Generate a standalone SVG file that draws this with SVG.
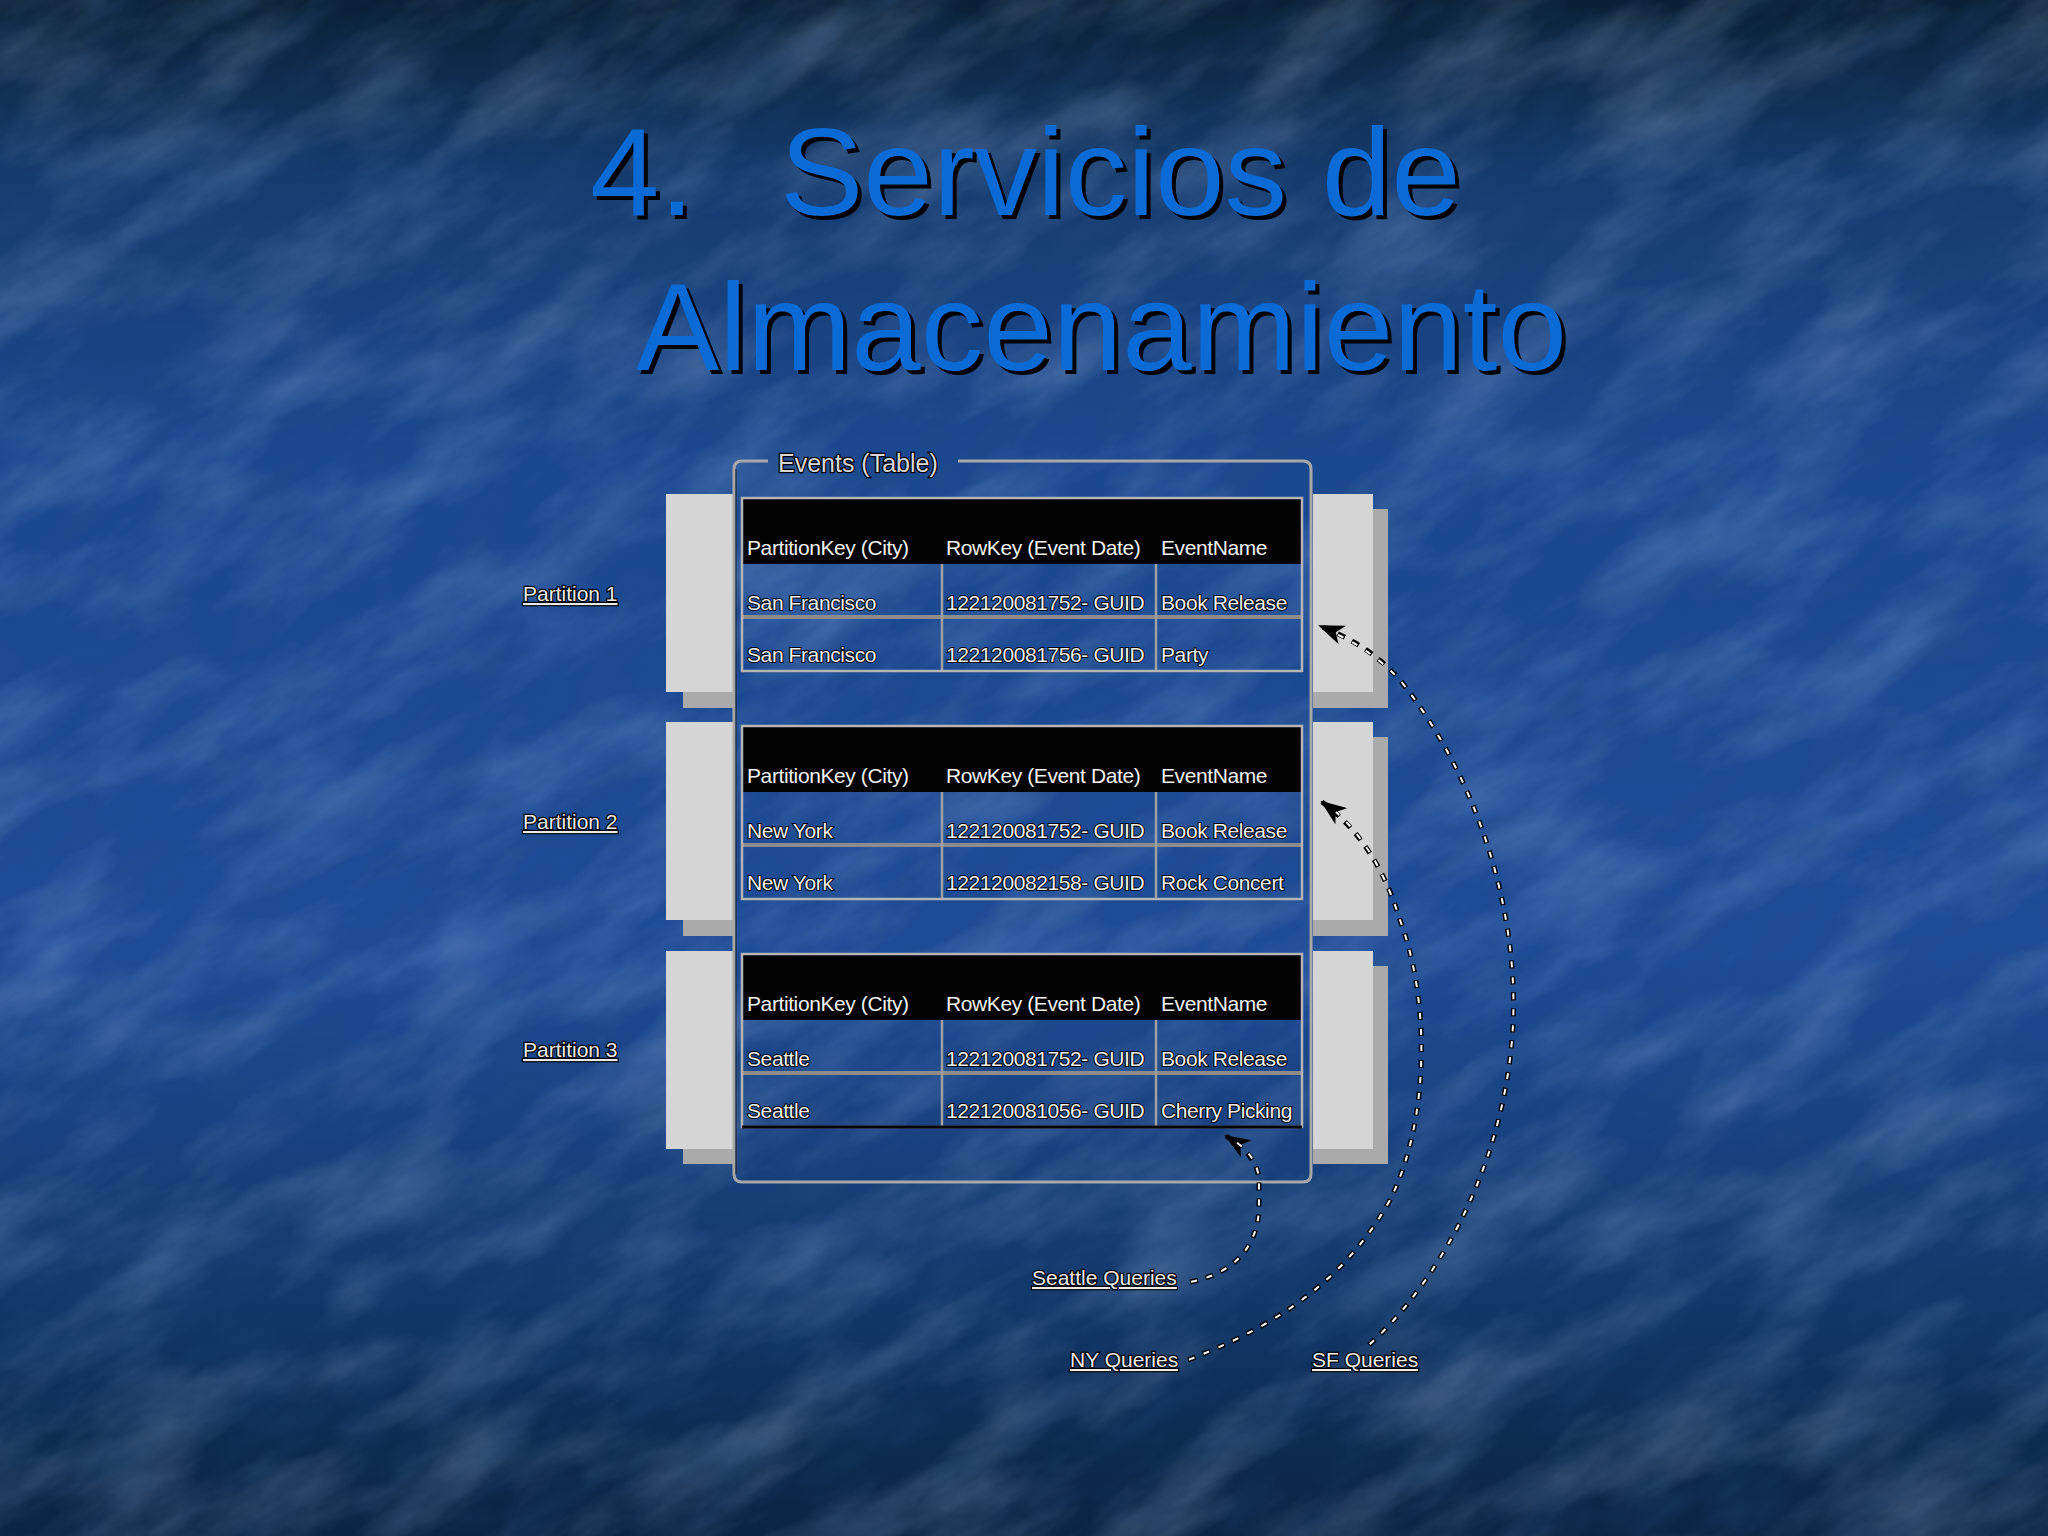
<svg xmlns="http://www.w3.org/2000/svg" width="2048" height="1536" viewBox="0 0 2048 1536">
  <defs>
    <linearGradient id="bg" x1="0" y1="0" x2="0" y2="1">
      <stop offset="0" stop-color="#0a2036"/>
      <stop offset="0.04" stop-color="#0e2a48"/>
      <stop offset="0.12" stop-color="#163c70"/>
      <stop offset="0.3" stop-color="#1b4990"/>
      <stop offset="0.62" stop-color="#1d4b96"/>
      <stop offset="0.8" stop-color="#153d74"/>
      <stop offset="0.92" stop-color="#0e2e56"/>
      <stop offset="1" stop-color="#0a2543"/>
    </linearGradient>
    <filter id="tex" x="-500" y="-500" width="3500" height="3000" filterUnits="userSpaceOnUse">
      <feTurbulence type="fractalNoise" baseFrequency="0.006 0.016" numOctaves="5" seed="7"/>
      <feColorMatrix type="matrix" values="0 0 0 0 0.5  0 0 0 0 0.64  0 0 0 0 0.92  1.5 0 0 0 -0.6"/>
    </filter>
    <filter id="tex2" x="-500" y="-500" width="3500" height="3000" filterUnits="userSpaceOnUse">
      <feTurbulence type="fractalNoise" baseFrequency="0.012 0.03" numOctaves="3" seed="19"/>
      <feColorMatrix type="matrix" values="0 0 0 0 0.02  0 0 0 0 0.08  0 0 0 0 0.22  1.3 0 0 0 -0.55"/>
    </filter>
    <marker id="arrow" viewBox="0 0 26 20" refX="24" refY="10" markerWidth="26" markerHeight="20" markerUnits="userSpaceOnUse" orient="auto">
      <path d="M0 0 L26 10 L0 20 L7 10 Z" fill="#000"/>
    </marker>
    <style>
      .title { font-family: "Liberation Sans", Arial, sans-serif; font-size: 125px; }
      .title-fg { fill: #0a6ad6; }
      .title-sh { fill: #000; }
      .lbl { font-family: "Liberation Sans", Arial, sans-serif; font-size: 21px; fill: #ececec; stroke: #000; stroke-width: 2.4px; paint-order: stroke; text-decoration: underline; }
      .cell { font-family: "Liberation Sans", Arial, sans-serif; font-size: 21px; letter-spacing: -0.4px; fill: #f2f2f2; stroke: #000; stroke-width: 2px; paint-order: stroke; }
      .head { font-family: "Liberation Sans", Arial, sans-serif; font-size: 21px; letter-spacing: -0.4px; fill: #f2f2f2; }
      .frame-title { font-family: "Liberation Sans", Arial, sans-serif; font-size: 25px; fill: #d8d8d8; stroke: #000; stroke-width: 2.6px; paint-order: stroke; }
      .card { fill: #d5d5d5; }
      .card-sh { fill: #aaaaaa; }
      .hdr { fill: #030303; }
      .tborder { fill: none; stroke: #b5b5b5; stroke-width: 2.5; }
      .rowsep { stroke: #8c8c8c; stroke-width: 4; }
      .colsep { stroke: #a0a0a0; stroke-width: 2.5; }
      .dash-o { fill: none; stroke: #000; stroke-width: 5; stroke-dasharray: 8 8; }
      .dash-i { fill: none; stroke: #fff; stroke-width: 2; stroke-dasharray: 6 10; stroke-dashoffset: -1; }
    </style>
  </defs>

  <!-- background -->
  <rect x="0" y="0" width="2048" height="1536" fill="url(#bg)"/>
  <g transform="rotate(-30 1024 768)" opacity="0.35">
    <rect x="-500" y="-500" width="3500" height="3000" filter="url(#tex)"/>
  </g>
  <g transform="rotate(-34 1024 768)" opacity="0.45">
    <rect x="-500" y="-500" width="3500" height="3000" filter="url(#tex2)"/>
  </g>

  <!-- title -->
  <g id="title" class="title">
    <text class="title-sh" x="594" y="219">4.</text>
    <text class="title-sh" x="784" y="219">Servicios de</text>
    <text class="title-sh" x="640" y="374">Almacenamiento</text>
    <text class="title-fg" x="590" y="215">4.</text>
    <text class="title-fg" x="780" y="215">Servicios de</text>
    <text class="title-fg" x="636" y="370">Almacenamiento</text>
  </g>

  <!-- partition cards -->
  <g id="card-1">
    <rect class="card-sh" x="683" y="692" width="51" height="16"/>
    <rect class="card" x="666" y="494" width="68" height="198"/>
    <rect class="card-sh" x="1373" y="509" width="15" height="199"/>
    <rect class="card-sh" x="1313" y="692" width="75" height="16"/>
    <rect class="card" x="1313" y="494" width="60" height="198"/>
  </g>
  <g id="card-2">
    <rect class="card-sh" x="683" y="920" width="51" height="16"/>
    <rect class="card" x="666" y="722" width="68" height="198"/>
    <rect class="card-sh" x="1373" y="737" width="15" height="199"/>
    <rect class="card-sh" x="1313" y="920" width="75" height="16"/>
    <rect class="card" x="1313" y="722" width="60" height="198"/>
  </g>
  <g id="card-3">
    <rect class="card-sh" x="683" y="1149" width="51" height="15"/>
    <rect class="card" x="666" y="951" width="68" height="198"/>
    <rect class="card-sh" x="1373" y="966" width="15" height="198"/>
    <rect class="card-sh" x="1313" y="1149" width="75" height="15"/>
    <rect class="card" x="1313" y="951" width="60" height="198"/>
  </g>

  <!-- Events table frame -->
  <g id="events-frame">
    <path d="M768 461 L742 461 Q734 461 734 469 L734 1174 Q734 1182 742 1182 L1303 1182 Q1311 1182 1311 1174 L1311 469 Q1311 461 1303 461 L958 461" fill="none" stroke="#a8a8a8" stroke-width="3"/>
    <path d="M736 469 L736 1174" stroke="#222" stroke-width="1"/>
    <text class="frame-title" x="778" y="472">Events (Table)</text>
  </g>

  <!-- partition labels -->
  <g id="label-p1"><text class="lbl" x="523" y="601">Partition 1</text></g>
  <g id="label-p2"><text class="lbl" x="523" y="829">Partition 2</text></g>
  <g id="label-p3"><text class="lbl" x="523" y="1057">Partition 3</text></g>

  <!-- table partition 1 -->
  <g id="table-p1">
    <rect class="hdr" x="742" y="498" width="560" height="66"/>
    <line class="rowsep" x1="742" y1="617" x2="1302" y2="617"/>
    <line class="colsep" x1="942" y1="564" x2="942" y2="671"/>
    <line class="colsep" x1="1156" y1="564" x2="1156" y2="671"/>
    <rect class="tborder" x="742" y="498" width="560" height="173"/>
    <text class="head" x="747" y="555">PartitionKey (City)</text>
    <text class="head" x="946" y="555">RowKey (Event Date)</text>
    <text class="head" x="1161" y="555">EventName</text>
    <text class="cell" x="747" y="610">San Francisco</text>
    <text class="cell" x="946" y="610">122120081752- GUID</text>
    <text class="cell" x="1161" y="610">Book Release</text>
    <text class="cell" x="747" y="662">San Francisco</text>
    <text class="cell" x="946" y="662">122120081756- GUID</text>
    <text class="cell" x="1161" y="662">Party</text>
  </g>

  <!-- table partition 2 -->
  <g id="table-p2">
    <rect class="hdr" x="742" y="726" width="560" height="66"/>
    <line class="rowsep" x1="742" y1="845" x2="1302" y2="845"/>
    <line class="colsep" x1="942" y1="792" x2="942" y2="899"/>
    <line class="colsep" x1="1156" y1="792" x2="1156" y2="899"/>
    <rect class="tborder" x="742" y="726" width="560" height="173"/>
    <text class="head" x="747" y="783">PartitionKey (City)</text>
    <text class="head" x="946" y="783">RowKey (Event Date)</text>
    <text class="head" x="1161" y="783">EventName</text>
    <text class="cell" x="747" y="838">New York</text>
    <text class="cell" x="946" y="838">122120081752- GUID</text>
    <text class="cell" x="1161" y="838">Book Release</text>
    <text class="cell" x="747" y="890">New York</text>
    <text class="cell" x="946" y="890">122120082158- GUID</text>
    <text class="cell" x="1161" y="890">Rock Concert</text>
  </g>

  <!-- table partition 3 -->
  <g id="table-p3">
    <rect class="hdr" x="742" y="954" width="560" height="66"/>
    <line class="rowsep" x1="742" y1="1073" x2="1302" y2="1073"/>
    <line class="colsep" x1="942" y1="1020" x2="942" y2="1127"/>
    <line class="colsep" x1="1156" y1="1020" x2="1156" y2="1127"/>
    <rect class="tborder" x="742" y="954" width="560" height="173"/>
    <line x1="742" y1="1127" x2="1302" y2="1127" stroke="#050505" stroke-width="3"/>
    <text class="head" x="747" y="1011">PartitionKey (City)</text>
    <text class="head" x="946" y="1011">RowKey (Event Date)</text>
    <text class="head" x="1161" y="1011">EventName</text>
    <text class="cell" x="747" y="1066">Seattle</text>
    <text class="cell" x="946" y="1066">122120081752- GUID</text>
    <text class="cell" x="1161" y="1066">Book Release</text>
    <text class="cell" x="747" y="1118">Seattle</text>
    <text class="cell" x="946" y="1118">122120081056- GUID</text>
    <text class="cell" x="1161" y="1118">Cherry Picking</text>
  </g>

  <!-- query labels -->
  <g id="label-seattle"><text class="lbl" x="1032" y="1285">Seattle Queries</text></g>
  <g id="label-ny"><text class="lbl" x="1070" y="1367">NY Queries</text></g>
  <g id="label-sf"><text class="lbl" x="1312" y="1367">SF Queries</text></g>

  <!-- connectors -->
  <g id="connectors">
    <path class="dash-o" marker-end="url(#arrow)" d="M1190 1282 C1232 1274 1259 1248 1259 1205 L1259 1180 C1258 1162 1245 1148 1226 1136"/>
    <path class="dash-i" d="M1190 1282 C1232 1274 1259 1248 1259 1205 L1259 1180 C1258 1162 1247 1150 1236 1142"/>
    <path class="dash-o" marker-end="url(#arrow)" d="M1188 1360 C1260 1332 1340 1290 1390 1200 C1430 1120 1430 1000 1400 920 C1385 870 1360 830 1322 802"/>
    <path class="dash-i" d="M1188 1360 C1260 1332 1340 1290 1390 1200 C1430 1120 1430 1000 1400 920 C1386 875 1365 838 1336 812"/>
    <path class="dash-o" marker-end="url(#arrow)" d="M1369 1345 C1430 1290 1500 1180 1512 1040 C1522 920 1480 780 1400 680 C1375 652 1350 638 1320 626"/>
    <path class="dash-i" d="M1369 1345 C1430 1290 1500 1180 1512 1040 C1522 920 1480 780 1400 680 C1378 657 1358 644 1334 633"/>
  </g>
</svg>
